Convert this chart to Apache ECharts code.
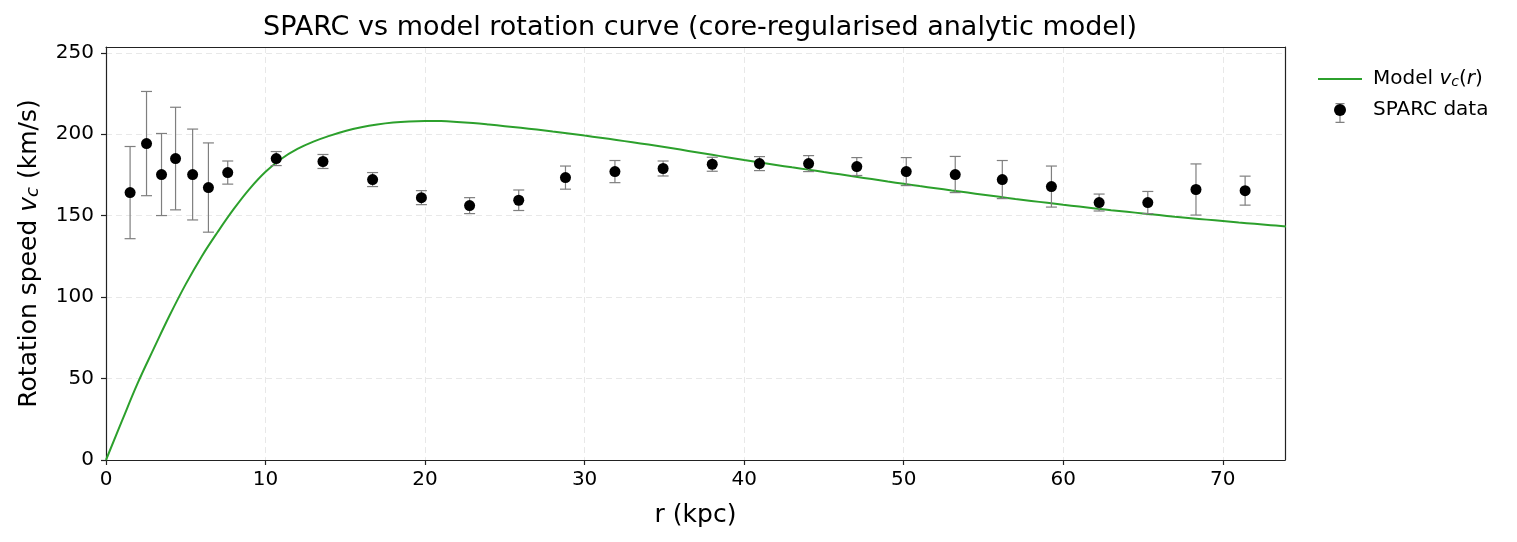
<!DOCTYPE html>
<html>
<head>
<meta charset="utf-8">
<script src="https://cdn.jsdelivr.net/npm/echarts@6/dist/echarts.min.js"></script>
<style>
  html, body { margin: 0; padding: 0; background: #fff; }
  #chart { width: 1517px; height: 542px; }
</style>
</head>
<body>
<div id="chart"></div>
<script>
// SPARC points: radius (kpc), speed (km/s), 1-sigma error
const rData = [1.51, 2.54, 3.48, 4.36, 5.43, 6.42, 7.63, 10.67, 13.6, 16.71, 19.77, 22.79, 25.87, 28.8,
  31.9, 34.92, 38.0, 40.96, 44.04, 47.06, 50.16, 53.23, 56.18, 59.26, 62.25, 65.3, 68.32, 71.4];
const vData = [164.2, 194.3, 175.3, 185.1, 175.3, 167.3, 176.5, 185.1, 183.3, 172.2, 161.1, 156.2, 159.5, 173.4,
  177.1, 179.0, 181.6, 182.0, 182.0, 180.2, 177.1, 175.3, 172.2, 167.9, 158.1, 158.1, 166.1, 165.4];
const errData = [28.3, 32.0, 25.2, 31.5, 27.9, 27.4, 7.1, 4.3, 4.3, 4.3, 4.3, 4.9, 6.3, 7.1,
  6.8, 4.6, 4.3, 4.3, 4.9, 5.5, 8.6, 11.1, 11.7, 12.6, 5.2, 6.8, 15.7, 8.9];

// model curve, one reading per kpc
const modelR = [0, 1, 2, 3, 4, 5, 6, 7, 8, 9, 10, 11, 12, 13, 14, 15, 16, 17, 18, 19, 20, 21, 22, 23, 24,
  25, 26, 27, 28, 29, 30, 31, 32, 33, 34, 35, 36, 37, 38, 39, 40, 41, 42, 43, 44, 45, 46, 47, 48, 49,
  50, 51, 52, 53, 54, 55, 56, 57, 58, 59, 60, 61, 62, 63, 64, 65, 66, 67, 68, 69, 70, 71, 72, 73, 74];
const modelV = [0, 24, 47.5, 68.5, 89, 108, 125, 140, 154, 166.5, 177, 185, 191, 195.5, 199, 202, 204.3,
  206, 207.2, 207.9, 208.2, 208.1, 207.6, 206.9, 206, 205, 204, 202.9, 201.7, 200.5, 199.2, 197.9, 196.5,
  195.1, 193.7, 192.2, 190.6, 189, 187.4, 185.8, 184.2, 182.7, 181.2, 179.7, 178.3, 176.8, 175.4, 173.9,
  172.5, 171, 169.6, 168.2, 166.9, 165.5, 164.2, 162.9, 161.6, 160.3, 159.1, 157.9, 156.7, 155.6, 154.5,
  153.4, 152.4, 151.4, 150.4, 149.4, 148.5, 147.6, 146.7, 145.8, 145, 144.2, 143.4];

const xTicks = [0, 10, 20, 30, 40, 50, 60, 70];
const yTicks = [0, 50, 100, 150, 200, 250];

const FONT = "DejaVu Sans";
const X_MAX = 73.9;
const Y_MAX = 253.6;
const chart = echarts.init(document.getElementById("chart"));

const points = rData.map((r, i) => [r, vData[i]]);
const bars = rData.map((r, i) => [r, vData[i] - errData[i], vData[i] + errData[i]]);
const curve = modelR.map((r, i) => [r, modelV[i]]);

const gridLine = { show: true, lineStyle: { color: "#e8e8e8", type: [6, 4], width: 1 } };
const spine = { show: true, onZero: false, lineStyle: { color: "#222", width: 1.2 } };
const tickStyle = { color: "#222", width: 1.2 };

const option = {
  animation: false,
  title: {
    text: "SPARC vs model rotation curve (core-regularised analytic model)",
    left: 695,
    textAlign: "center",
    top: 9,
    textStyle: { fontFamily: FONT, fontSize: 27, fontWeight: "normal", color: "#000" },
  },
  grid: { left: 106, top: 47, width: 1179, height: 413 },
  xAxis: [
    {
      type: "value",
      min: 0,
      max: X_MAX,
      interval: 10,
      name: "r (kpc)",
      nameLocation: "middle",
      nameGap: 43,
      nameTextStyle: { fontFamily: FONT, fontSize: 25, color: "#000" },
      axisLine: spine,
      axisTick: { show: true, length: 5, customValues: xTicks, lineStyle: tickStyle },
      axisLabel: { customValues: xTicks, margin: 10, fontFamily: FONT, fontSize: 20, color: "#000" },
      splitLine: gridLine,
    },
    {
      type: "value",
      position: "top",
      min: 0,
      max: X_MAX,
      axisLine: spine,
      axisTick: { show: false },
      axisLabel: { show: false },
      splitLine: { show: false },
    },
  ],
  yAxis: [
    {
      type: "value",
      min: 0,
      max: Y_MAX,
      interval: 50,
      name: "Rotation speed {i|v}{s|c} (km/s)",
      nameLocation: "middle",
      nameGap: 64,
      nameTextStyle: {
        fontFamily: FONT, fontSize: 25, color: "#000",
        rich: {
          i: { fontFamily: FONT, fontSize: 25, fontStyle: "italic", color: "#000" },
          s: { fontFamily: FONT, fontSize: 18, fontStyle: "italic", color: "#000", verticalAlign: "bottom", padding: [8, 0, 0, 0] },
        },
      },
      axisLine: spine,
      axisTick: { show: true, length: 5, customValues: yTicks, lineStyle: tickStyle },
      axisLabel: { customValues: yTicks, margin: 12, fontFamily: FONT, fontSize: 20, color: "#000" },
      splitLine: gridLine,
    },
    {
      type: "value",
      position: "right",
      min: 0,
      max: Y_MAX,
      axisLine: spine,
      axisTick: { show: false },
      axisLabel: { show: false },
      splitLine: { show: false },
    },
  ],
  legend: [
    {
      orient: "vertical",
      left: 1313,
      top: 64,
      itemWidth: 44,
      itemHeight: 12,
      itemGap: 11,
      z: 5,
      selectedMode: false,
      data: [
        { name: "Model", icon: "path://M0,0H44V2H0Z" },
        { name: "SPARC data", icon: "circle" },
      ],
      formatter: (n) => (n === "Model" ? "Model {i|v}{s|c}({i|r})" : n),
      textStyle: {
        fontFamily: FONT, fontSize: 20, color: "#000", padding: [0, 0, 0, 6],
        rich: {
          i: { fontFamily: FONT, fontSize: 20, fontStyle: "italic", color: "#000" },
          s: { fontFamily: FONT, fontSize: 14, fontStyle: "italic", color: "#000", verticalAlign: "bottom", padding: [6, 0, 0, 0] },
        },
      },
    },
    {
      orient: "vertical",
      left: 1313,
      top: 98,
      itemWidth: 44,
      itemHeight: 20,
      z: 4,
      selectedMode: false,
      data: [
        { name: "SPARC err", icon: "path://M0,0H9V1.2H5.1V18.8H9V20H0V18.8H3.9V1.2H0Z", itemStyle: { color: "#7f7f7f" } },
      ],
      formatter: () => "",
    },
  ],
  series: [
    {
      name: "Model",
      type: "line",
      data: curve,
      symbol: "none",
      smooth: 0.4,
      color: "#2ca02c",
      lineStyle: { color: "#2ca02c", width: 2 },
      z: 2,
    },
    {
      name: "SPARC err",
      type: "custom",
      data: bars,
      encode: { x: 0, y: [1, 2] },
      itemStyle: { color: "#7f7f7f" },
      z: 3,
      renderItem: (params, api) => {
        const x = api.value(0);
        const lo = api.coord([x, api.value(1)]);
        const hi = api.coord([x, api.value(2)]);
        const w = 5.5;
        const st = { stroke: "#7f7f7f", lineWidth: 1.2 };
        return {
          type: "group",
          children: [
            { type: "line", shape: { x1: lo[0], y1: lo[1], x2: hi[0], y2: hi[1] }, style: st },
            { type: "line", shape: { x1: hi[0] - w, y1: hi[1], x2: hi[0] + w, y2: hi[1] }, style: st },
            { type: "line", shape: { x1: lo[0] - w, y1: lo[1], x2: lo[0] + w, y2: lo[1] }, style: st },
          ],
        };
      },
    },
    {
      name: "SPARC data",
      type: "scatter",
      data: points,
      symbol: "circle",
      symbolSize: 11,
      color: "#000",
      itemStyle: { color: "#000", opacity: 1 },
      z: 4,
    },
  ],
};

chart.setOption(option);
</script>
</body>
</html>
